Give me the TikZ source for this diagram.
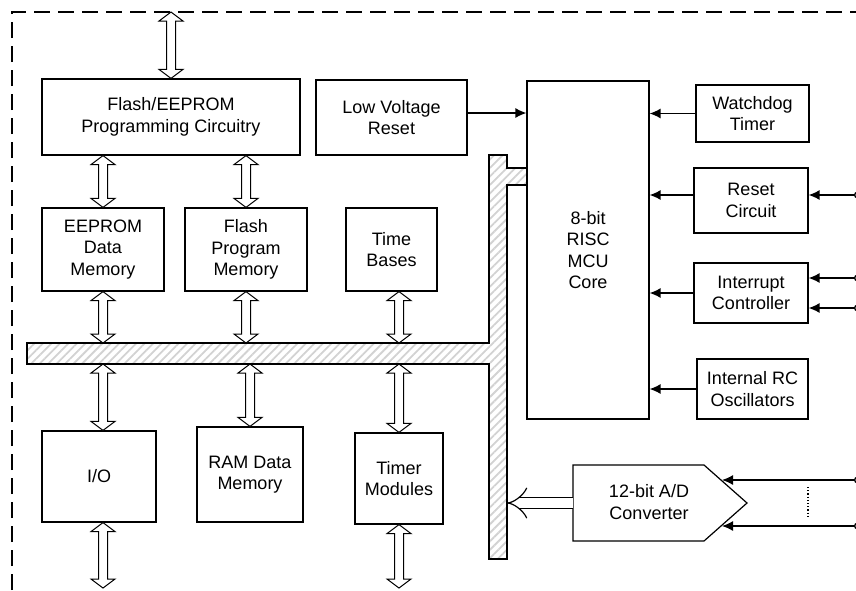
\documentclass[tikz,border=0pt]{standalone}
\usepackage{fontspec}
\newfontfamily\blkfont{Liberation Sans}
\usetikzlibrary{calc,positioning,arrows.meta,patterns.meta}

\tikzset{
  blk/.style={draw, line width=1.2pt, align=center, inner sep=0pt,
    font=\blkfont\fontsize{18}{21.5}\selectfont},
  sig/.style={line width=1.3pt, -{Latex[length=11pt,width=10pt]}},
  pinsig/.style={line width=1.3pt,
    {Circle[open,fill=white,length=7pt]}-{Latex[length=11pt,width=10pt]}},
  buswire/.style={draw, fill=white, line width=1pt, to path={
    let \p1=(\tikztostart), \p2=(\tikztotarget) in
    (\x1,\y1) -- (\x1-12pt,\y1-9pt) -- (\x1-4.5pt,\y1-9pt)
    -- (\x2-4.5pt,\y2+9pt) -- (\x2-12pt,\y2+9pt) -- (\x2,\y2)
    -- (\x2+12pt,\y2+9pt) -- (\x2+4.5pt,\y2+9pt)
    -- (\x1+4.5pt,\y1-9pt) -- (\x1+12pt,\y1-9pt) -- cycle}},
  busbar/.style={draw, line width=1.2pt,
    pattern={Lines[angle=45,distance=6pt,line width=1.8pt]},
    pattern color=gray!35},
  dbl/.style={line width=1.2pt, double, double distance=10pt, -{Implies}},
  frame/.style={line width=1.2pt, dash pattern=on 16pt off 8pt}
}

\begin{document}
\begin{tikzpicture}[x=1pt, y=-1pt]
\useasboundingbox (0,0) rectangle (856,590);

% outer dashed frame
\draw[frame] (12,590) -- (12,12) -- (862,12);

% internal data bus
\coordinate (bustop) at (0,343);
\coordinate (busbot) at (0,364);
\draw[busbar] (27,343) -- (489,343) -- (489,155) -- (507,155) -- (507,168)
  -- (527,168) -- (527,185) -- (507,185) -- (507,559) -- (489,559)
  -- (489,364) -- (27,364) -- cycle;

% blocks
\node[blk, minimum width=258pt, minimum height=76pt] (fpc) at (171,117)
  {Flash/EEPROM\\Programming Circuitry};
\node[blk, minimum width=151pt, minimum height=75pt] (lvr) at (391.5,117.5)
  {Low Voltage\\Reset};
\node[blk, minimum width=122pt, minimum height=338pt] (mcu) at (588,250)
  {8-bit\\RISC\\MCU\\Core};
\node[blk, minimum width=113pt, minimum height=57pt] (wdt) at (752.5,113.5)
  {Watchdog\\Timer};
\node[blk, minimum width=114pt, minimum height=65pt] (rst) at (751,200.5)
  {Reset\\Circuit};
\node[blk, minimum width=114pt, minimum height=60pt] (intc) at (751,293)
  {Interrupt\\Controller};
\node[blk, minimum width=111pt, minimum height=60pt] (irc) at (752.5,389)
  {Internal RC\\Oscillators};

\node[blk, minimum width=122pt, minimum height=83pt] (eeprom) at (103,249.5)
  {EEPROM\\Data\\Memory};
\node[blk, minimum width=122pt, minimum height=83pt] (fpm) at (246,249.5)
  {Flash\\Program\\Memory};
\node[blk, minimum width=91pt, minimum height=83pt] (tb) at (391.5,249.5)
  {Time\\Bases};

\node[blk, minimum width=114pt, minimum height=91pt] (io) at (99,476.5) {I/O};
\node[blk, minimum width=106pt, minimum height=95pt] (ram) at (250,474.5)
  {RAM Data\\Memory};
\node[blk, minimum width=88pt, minimum height=91pt] (tmr) at (399,478.5)
  {Timer\\Modules};

% A/D converter
\draw[line width=1.2pt] (573,465) -- (704,465) -- (747,503) -- (704,541)
  -- (573,541) -- cycle;
\node[blk, draw=none] (adc) at (649,502) {12-bit A/D\\Converter};

% wide bus arrows
\coordinate (ext1) at (171,12);
\coordinate (ext2) at (0,588);
\draw[buswire] (ext1) to (fpc.north);
\draw[buswire] (fpc.south -| eeprom) to (eeprom.north);
\draw[buswire] (fpc.south -| fpm) to (fpm.north);
\foreach \b in {eeprom,fpm}
  \draw[buswire] (\b.south) to (\b.south |- bustop);
\draw[buswire] (tmr |- tb.south) to (tmr |- bustop);
\draw[buswire] (eeprom |- busbot) to (eeprom |- io.north);
\draw[buswire] (ram |- busbot) to (ram.north);
\draw[buswire] (tmr |- busbot) to (tmr.north);
\draw[buswire] (eeprom |- io.south) to (eeprom |- ext2);
\draw[buswire] (tmr.south) to (tmr |- ext2);

% control signals into the core
\draw[sig] ([yshift=4.5pt]lvr.east) -- ([yshift=4.5pt]lvr.east -| mcu.west);
\draw[sig] (wdt.west) -- (wdt.west -| mcu.east);
\draw[sig] ([yshift=5.5pt]rst.west) -- ([yshift=5.5pt]rst.west -| mcu.east);
\draw[sig] (intc.west) -- (intc.west -| mcu.east);
\draw[sig] (irc.west) -- (irc.west -| mcu.east);

% external pins
\coordinate (rstpin) at (861,195);
\coordinate (intpinA) at (861,278);
\coordinate (intpinB) at (861,308);
\coordinate (adcpinA) at (861,480);
\coordinate (adcpinB) at (861,526);
\coordinate (adcinA) at (722,480);
\coordinate (adcinB) at (722,526);
\draw[pinsig] (rstpin) -- (rstpin -| rst.east);
\draw[pinsig] (intpinA) -- (intpinA -| intc.east);
\draw[pinsig] (intpinB) -- (intpinB -| intc.east);
\draw[pinsig] (adcpinA) -- (adcinA);
\draw[pinsig] (adcpinB) -- (adcinB);
\draw[line width=1.2pt, dotted] (808,487) -- (808,518);

% converter result onto the bus
\coordinate (adcout) at (573,503);
\coordinate (adcbus) at (507,503);
\draw[dbl] (adcout) -- (adcbus);

\end{tikzpicture}
\end{document}
